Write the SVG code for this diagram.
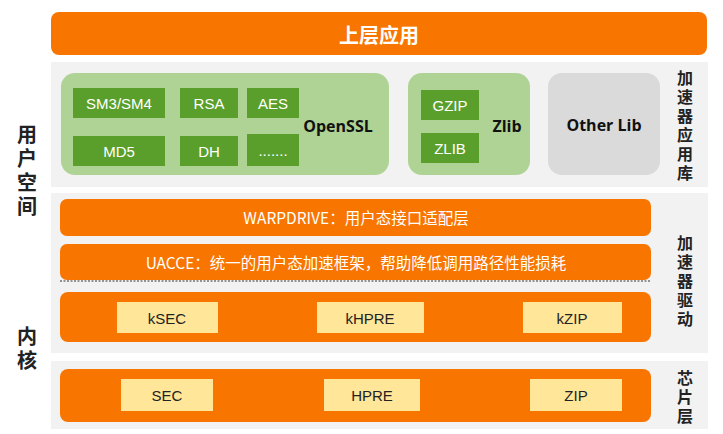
<svg xmlns="http://www.w3.org/2000/svg" width="723" height="434" viewBox="0 0 723 434">
<style>
.panel{fill:#f2f2f2}
.orange{fill:#f87500}
.lg{fill:#aed394}
.dg{fill:#5a9f2c}
.yl{fill:#ffe699}
.gray{fill:#dadada}
text{font-family:"Noto Sans CJK SC","Liberation Sans",sans-serif}
.w{fill:#ffffff;font-size:15.5px;text-anchor:middle;dominant-baseline:central}
.wb{fill:#ffffff;font-size:15px;text-anchor:middle;dominant-baseline:central;font-family:"Liberation Sans",sans-serif}
.k{fill:#222222;font-size:15px;text-anchor:middle;dominant-baseline:central;font-family:"Liberation Sans",sans-serif}
.bk{fill:#111111;font-size:16px;font-weight:bold;text-anchor:middle;dominant-baseline:central;font-family:"Open Sans","Liberation Sans",sans-serif}
.side{fill:#222222;font-size:16px;font-weight:bold;writing-mode:vertical-rl;letter-spacing:3px;text-anchor:start}
.sideL{fill:#222222;font-size:20px;font-weight:bold;writing-mode:vertical-rl;letter-spacing:4px;text-anchor:start}
</style>
<rect width="723" height="434" fill="#ffffff"/>

<g id="top-app">
<rect class="orange" x="51" y="12" width="656" height="43" rx="8"/>
<text x="379" y="34" fill="#ffffff" font-size="20" font-weight="bold" text-anchor="middle" dominant-baseline="central" style="font-family:'Noto Sans CJK SC',sans-serif">上层应用</text>
</g>

<g id="panel-lib">
<rect class="panel" x="51" y="62" width="657" height="125"/>
</g>
<g id="panel-driver">
<rect class="panel" x="51" y="193" width="657" height="160"/>
</g>
<g id="panel-chip">
<rect class="panel" x="51" y="361" width="657" height="68"/>
</g>

<g id="openssl">
<rect class="lg" x="61" y="73" width="328" height="102" rx="14"/>
<rect class="dg" x="73" y="88" width="92" height="30"/>
<text class="wb" x="119" y="103">SM3/SM4</text>
<rect class="dg" x="180" y="88" width="58" height="30"/>
<text class="wb" x="209" y="103">RSA</text>
<rect class="dg" x="247" y="88" width="52" height="30"/>
<text class="wb" x="273" y="103">AES</text>
<rect class="dg" x="73" y="136" width="92" height="30"/>
<text class="wb" x="119" y="151">MD5</text>
<rect class="dg" x="180" y="136" width="58" height="30"/>
<text class="wb" x="209" y="151">DH</text>
<rect class="dg" x="247" y="134" width="52" height="32"/>
<text class="wb" x="273" y="150" font-size="11">.......</text>
<text class="bk" x="338" y="126">OpenSSL</text>
</g>

<g id="zlib">
<rect class="lg" x="408" y="73" width="122" height="102" rx="14"/>
<rect class="dg" x="421" y="90" width="58" height="30"/>
<text class="wb" x="450" y="105">GZIP</text>
<rect class="dg" x="421" y="133" width="58" height="30"/>
<text class="wb" x="450" y="148">ZLIB</text>
<text class="bk" x="507" y="126">Zlib</text>
</g>

<g id="otherlib">
<rect class="gray" x="548" y="73" width="112" height="102" rx="14"/>
<text class="bk" x="604" y="125" font-size="17">Other Lib</text>
</g>

<g id="warpdrive">
<rect class="orange" x="60" y="199" width="591" height="37" rx="7"/>
<text class="w" x="356" y="217">WARPDRIVE：用户态接口适配层</text>
</g>

<g id="uacce">
<rect class="orange" x="60" y="244" width="591" height="36" rx="7"/>
<text class="w" x="356" y="262">UACCE：统一的用户态加速框架，帮助降低调用路径性能损耗</text>
</g>

<g id="connectors">
<line x1="60" y1="281" x2="651" y2="281" stroke="#333333" stroke-width="1" stroke-dasharray="2,1.5"/>
</g>

<g id="kernel-drivers">
<rect class="orange" x="60" y="292" width="591" height="50" rx="8"/>
<rect class="yl" x="117" y="302" width="101" height="31"/>
<text class="k" x="167" y="318">kSEC</text>
<rect class="yl" x="317" y="302" width="107" height="31"/>
<text class="k" x="370" y="318">kHPRE</text>
<rect class="yl" x="523" y="302" width="99" height="31"/>
<text class="k" x="572" y="318">kZIP</text>
</g>

<g id="chip">
<rect class="orange" x="60" y="369" width="591" height="53" rx="8"/>
<rect class="yl" x="121" y="379" width="92" height="32"/>
<text class="k" x="167" y="395">SEC</text>
<rect class="yl" x="324" y="379" width="96" height="32"/>
<text class="k" x="372" y="395">HPRE</text>
<rect class="yl" x="530" y="379" width="92" height="32"/>
<text class="k" x="576" y="395">ZIP</text>
</g>

<g id="label-userspace">
<text class="sideL" x="27" y="124">用户空间</text>
</g>
<g id="label-kernel">
<text class="sideL" x="27" y="326">内核</text>
</g>

<g id="label-acclib">
<text class="side" x="685" y="70">加速器应用库</text>
</g>
<g id="label-accdrv">
<text class="side" x="685" y="235">加速器驱动</text>
</g>
<g id="label-chip">
<text class="side" x="685" y="370">芯片层</text>
</g>
</svg>
